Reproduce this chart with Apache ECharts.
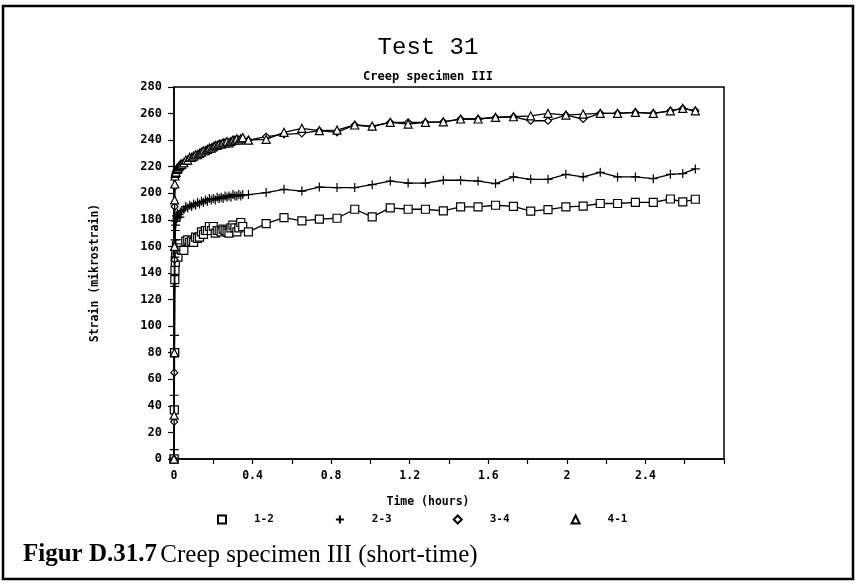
<!DOCTYPE html>
<html><head><meta charset="utf-8">
<script src="https://cdn.jsdelivr.net/npm/echarts@6/dist/echarts.min.js"></script>
<style>html,body{margin:0;padding:0;background:#fff}#c{width:856px;height:585px}</style>
</head><body><div id="c"></div>
<script>
// ---- data (time in hours, strain in mikrostrain) ----
var timeDense = [0, 0.0008, 0.0017, 0.0025, 0.0033, 0.0042, 0.005, 0.0067, 0.0083, 0.01,
  0.0125, 0.015, 0.0175, 0.02, 0.025, 0.03, 0.035, 0.04,
  0.05, 0.06, 0.07, 0.08, 0.09, 0.1, 0.11, 0.12, 0.13, 0.14, 0.15, 0.16, 0.17, 0.18, 0.19, 0.2,
  0.21, 0.22, 0.23, 0.24, 0.25, 0.26, 0.27, 0.28, 0.29, 0.3, 0.31, 0.32, 0.33, 0.34, 0.35];
var timeSparse = [0.379, 0.469, 0.560, 0.651, 0.740, 0.830, 0.920, 1.009, 1.101, 1.192, 1.280, 1.371,
  1.459, 1.548, 1.637, 1.728, 1.816, 1.904, 1.995, 2.083, 2.170, 2.258, 2.349, 2.440, 2.527, 2.590, 2.654];

var s12 = [0, 0, 37, 80, 80, 135, 142, 148, 152, 155,
  160, 161, 158, 152, 161, 162, 159, 157,
  157, 164, 165, 163, 164, 163, 167, 166, 167, 171, 169, 172, 172, 175, 172, 175,
  170, 172, 172, 171, 173, 172, 171, 170, 174, 176, 174, 171, 174, 178, 175,
  171, 177.2, 181.7, 179.2, 180.5, 181.2, 188, 182.2, 189, 188, 188, 186.7, 189.7, 189.7, 191, 190.2,
  186.5, 187.7, 189.7, 190.4, 192.3, 192.3, 193.2, 193.2, 195.7, 193.5, 195.5];
var s23 = [0, 7, 48, 93, 130, 152, 165, 172, 176, 179,
  183, 181, 185, 182, 184, 182, 186, 187,
  188, 190, 189, 191, 190, 192, 191, 193, 192, 194, 193, 195, 194, 196, 195, 196,
  195, 197, 196, 197, 196, 198, 197, 198, 197, 199, 198, 198, 199, 198, 199,
  199, 200.5, 203, 201.7, 204.7, 204.3, 204.3, 206.5, 209.2, 207.7, 207.7, 209.8, 209.8, 209.2, 207.3, 212.3,
  210.5, 210.5, 214.3, 212.3, 215.8, 212.3, 212.3, 211.0, 214.3, 214.8, 218.3];
var s34 = [0, 28, 65, 150, 190, 205, 212, 214, 215, 216,
  217, 218, 218, 219, 220, 221, 221, 222,
  223, 224, 225, 226, 227, 228, 228, 229, 230, 231, 231, 232, 233, 233, 234, 235,
  235, 236, 236, 237, 237, 238, 238, 238, 239, 239, 240, 240, 240, 241, 241,
  240, 242.6, 244.4, 245.1, 247.1, 245.9, 251.4, 250.1, 253.4, 253.4, 253.4, 253.8, 255.9, 255.9, 257.1, 257.6,
  254.6, 254.6, 258.9, 255.9, 260.2, 260.2, 260.9, 260.2, 262.1, 263.9, 262.1];
var s41 = [0, 33, 80, 160, 195, 207, 213, 215, 216, 216,
  218, 218, 219, 219, 220, 221, 222, 222,
  223, 225, 225, 227, 227, 228, 229, 229, 230, 231, 232, 232, 233, 234, 234, 235,
  236, 236, 237, 237, 238, 238, 239, 238, 239, 240, 240, 241, 240, 241, 242,
  240, 240.6, 245.9, 248.9, 247.1, 247.6, 251.4, 250.6, 253.4, 252.1, 253.4, 253.8, 255.9, 255.9, 257.1, 257.6,
  258.3, 260.2, 258.9, 259.6, 260.2, 260.2, 260.9, 260.2, 262.1, 263.9, 262.1];

var seriesNames = ['1-2', '2-3', '3-4', '4-1'];
var xTickLabels = ['0', '0.4', '0.8', '1.2', '1.6', '2', '2.4'];

// ---- build ----
var times = timeDense.concat(timeSparse);
function pairs(vals) { return vals.map(function (v, i) { return [times[i], v]; }); }
var plusPath = 'path://M5,0L5,10M0,5L10,5';
var symbols = ['rect', plusPath, 'diamond', 'triangle'];
var sizes = [8, 9, 7, 8];
var allVals = [s12, s23, s34, s41];

var monoBold = { fontFamily: 'DejaVu Sans Mono', fontWeight: 'bold', color: '#000' };

var chart = echarts.init(document.getElementById('c'), null, { renderer: 'canvas' });
chart.setOption({
  animation: false,
  backgroundColor: '#fff',
  grid: { left: 174, right: 132, top: 87, bottom: 126, show: true, borderColor: '#000', borderWidth: 1.5 },
  xAxis: {
    type: 'value', min: 0, max: 2.8, interval: 0.2,
    name: 'Time (hours)', nameLocation: 'middle', nameGap: 37,
    nameTextStyle: Object.assign({ fontSize: 11.5, padding: [0, 42, 0, 0] }, monoBold),
    axisLine: { show: true, onZero: false, lineStyle: { color: '#000', width: 1.5 } },
    axisTick: { show: true, length: 5, lineStyle: { color: '#000', width: 1.2 } },
    axisLabel: Object.assign({
      fontSize: 11.5, margin: 11,
      formatter: function (v) {
        var k = Math.round(v * 10);
        if (k % 4 !== 0) return '';
        var idx = k / 4;
        return idx < xTickLabels.length ? xTickLabels[idx] : '';
      }
    }, monoBold),
    splitLine: { show: false }
  },
  yAxis: {
    type: 'value', min: 0, max: 280, interval: 20,
    name: 'Strain (mikrostrain)', nameLocation: 'middle', nameGap: 73,
    nameTextStyle: Object.assign({ fontSize: 11.5 }, monoBold),
    axisLine: { show: true, onZero: false, lineStyle: { color: '#000', width: 1.5 } },
    axisTick: { show: true, length: 6, lineStyle: { color: '#000', width: 1.2 } },
    axisLabel: Object.assign({ fontSize: 12, margin: 12 }, monoBold),
    splitLine: { show: false }
  },
  legend: {
    left: 212, top: 509, itemWidth: 8, itemHeight: 8, itemGap: 61,
    textStyle: Object.assign({ fontSize: 11, padding: [0, 0, 0, 23], width: 24 }, monoBold),
    data: seriesNames.map(function (n, i) { return { name: n, icon: symbols[i] }; })
  },
  series: seriesNames.map(function (n, i) {
    return {
      name: n, type: 'line', data: pairs(allVals[i]),
      symbol: symbols[i], symbolSize: sizes[i], showSymbol: true, showAllSymbol: true,
      lineStyle: { color: '#000', width: 1.3 },
      itemStyle: { color: '#fff', borderColor: '#000', borderWidth: 1.2 },
      z: 2 + i
    };
  }),
  graphic: [
    { type: 'rect', shape: { x: 3, y: 6, width: 850, height: 573 }, style: { fill: 'none', stroke: '#000', lineWidth: 2.5 } },
    { type: 'text', x: 428, y: 48, style: { text: 'Test 31', fontFamily: 'Liberation Mono', fontSize: 24, fill: '#000', textAlign: 'center', textVerticalAlign: 'middle' } },
    { type: 'text', x: 428, y: 77, style: { text: 'Creep specimen III', fontFamily: 'DejaVu Sans Mono', fontWeight: 'bold', fontSize: 12, fill: '#000', textAlign: 'center', textVerticalAlign: 'middle' } },
    { type: 'text', x: 23, y: 555, style: {
        text: '{b|Figur D.31.7} {n|Creep specimen III (short-time)}',
        textVerticalAlign: 'middle',
        rich: {
          b: { fontFamily: 'Liberation Serif', fontWeight: 'bold', fontSize: 25, fill: '#000' },
          n: { fontFamily: 'Liberation Serif', fontSize: 25, fill: '#000' }
        }
      } }
  ]
});
</script></body></html>
